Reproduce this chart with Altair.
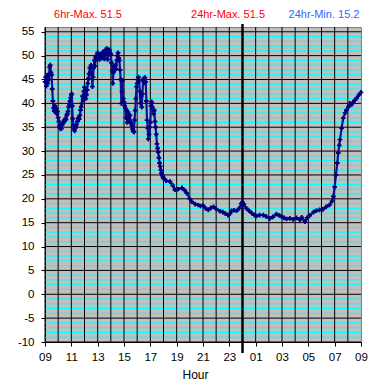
import altair as alt
import pandas as pd

# ---- data ----
HOURS = [0.00, 0.05, 0.10, 0.15, 0.20, 0.25, 0.30, 0.35, 0.40, 0.45, 0.50, 0.55, 0.60, 0.65, 0.70, 0.75,
         0.80, 0.85, 0.90, 0.95, 1.00, 1.05, 1.10, 1.15, 1.20, 1.25, 1.30, 1.35, 1.40, 1.45, 1.50, 1.55,
         1.60, 1.65, 1.70, 1.75, 1.80, 1.85, 1.90, 1.95, 2.00, 2.03, 2.07, 2.10, 2.15, 2.20, 2.25, 2.30,
         2.35, 2.40, 2.45, 2.50, 2.55, 2.60, 2.65, 2.70, 2.75, 2.80, 2.85, 2.90, 2.95, 3.00, 3.05, 3.10,
         3.15, 3.20, 3.25, 3.30, 3.35, 3.40, 3.45, 3.50, 3.55, 3.60, 3.65, 3.70, 3.75, 3.80, 3.85, 3.90,
         3.95, 4.00, 4.05, 4.10, 4.15, 4.20, 4.25, 4.30, 4.35, 4.40, 4.45, 4.50, 4.55, 4.60, 4.65, 4.70,
         4.75, 4.80, 4.85, 4.90, 4.95, 5.00, 5.05, 5.10, 5.15, 5.20, 5.25, 5.30, 5.35, 5.40, 5.45, 5.50,
         5.55, 5.60, 5.65, 5.70, 5.75, 5.80, 5.85, 5.90, 5.95, 6.00, 6.05, 6.10, 6.15, 6.20, 6.25, 6.30,
         6.35, 6.40, 6.45, 6.50, 6.55, 6.60, 6.65, 6.70, 6.75, 6.80, 6.85, 6.90, 6.95, 7.00, 7.05, 7.10,
         7.15, 7.20, 7.25, 7.30, 7.35, 7.40, 7.45, 7.50, 7.55, 7.60, 7.65, 7.70, 7.75, 7.80, 7.85, 7.90,
         7.95, 8.00, 8.05, 8.10, 8.15, 8.20, 8.25, 8.30, 8.35, 8.40, 8.45, 8.50, 8.55, 8.60, 8.65, 8.70,
         8.75, 8.80, 8.85, 8.90, 8.95, 9.00,
         9.2, 9.5, 9.7, 9.87, 10.1, 10.4, 10.6, 10.76, 11.0, 11.14, 11.4, 11.64, 11.8, 12.0, 12.2, 12.4,
         12.6, 12.8, 13.0, 13.3, 13.5, 13.7, 13.9, 14.05, 14.17, 14.35, 14.55, 14.75, 14.9, 15.0, 15.1,
         15.3, 15.5, 15.7, 15.9, 16.07, 16.3, 16.57, 16.8, 17.08, 17.3, 17.58, 17.8, 17.96, 18.15, 18.34,
         18.6, 18.85, 19.1, 19.36, 19.5, 19.74, 19.9, 20.1, 20.4, 20.6, 20.85, 21.1, 21.35, 21.6, 21.8,
         21.9, 22.0, 22.1, 22.2, 22.27, 22.35, 22.4, 22.53, 22.65, 22.8, 22.9, 23.05, 23.16, 23.3, 23.4,
         23.55, 23.67, 23.85, 24.0]

TEMPS = [44.5, 45.5, 43.6, 45.8, 44.2, 46.0, 45.0, 47.6, 48.0, 46.5, 46.0, 43.0, 40.5, 39.0, 38.4, 39.5,
         38.2, 39.0, 37.8, 38.3, 37.0, 36.2, 35.3, 34.8, 35.2, 34.7, 35.5, 35.8, 36.0, 36.4, 36.5, 36.8,
         36.6, 37.5, 37.8, 38.3, 39.3, 39.9, 40.5, 41.2, 41.8, 42.0, 39.5, 36.8, 35.5, 34.6, 34.3, 34.8,
         35.1, 35.6, 36.2, 36.8, 37.0, 36.7, 37.5, 38.6, 39.3, 40.0, 41.5, 40.8, 42.5, 43.4, 42.8, 41.0,
         41.8, 42.8, 44.2, 45.2, 46.2, 47.5, 46.4, 48.0, 46.0, 43.5, 45.5, 47.5, 49.0, 47.8, 49.7, 50.0,
         49.2, 50.6, 49.4, 49.8, 49.2, 50.2, 49.6, 50.3, 49.5, 50.8, 49.8, 49.3, 50.5, 51.2, 50.3, 51.5,
         49.2, 51.0, 50.5, 51.2, 50.2, 50.4, 48.5, 46.8, 44.2, 46.5, 47.8, 47.0, 48.0, 47.2, 49.0, 50.0,
         50.6, 49.5, 49.0, 47.0, 45.0, 40.0, 42.5, 44.8, 41.0, 40.3, 39.5, 39.0, 37.0, 38.5, 36.0, 38.2,
         37.2, 36.6, 37.5, 36.0, 35.8, 35.2, 34.6, 34.2, 34.0, 36.5, 38.5, 41.0, 43.5, 44.2, 45.0, 45.5,
         44.6, 42.5, 40.0, 41.5, 39.2, 42.0, 44.8, 45.2, 44.3, 45.4, 44.5, 40.5, 36.5, 34.8, 32.5, 33.5,
         35.0, 36.0, 39.5, 40.3, 39.2, 38.8, 37.8, 38.5, 36.2, 35.0, 33.5, 31.5, 30.6, 29.8, 28.6, 27.5,
         26.8, 26.0, 25.4, 25.0, 24.6, 24.3,
         23.8, 23.6, 22.8, 21.9, 22.0, 22.3, 21.8, 21.2, 20.0, 19.4, 18.9, 18.7, 18.5, 18.6, 18.0, 17.7,
         18.1, 18.3, 17.9, 17.4, 17.2, 16.9, 16.6, 16.9, 17.5, 17.6, 17.5, 18.0, 19.0, 19.2, 18.9,
         18.0, 17.5, 17.0, 16.6, 16.4, 16.6, 16.6, 16.3, 15.9, 16.2, 16.8, 16.5, 16.3, 16.0, 15.8,
         15.9, 15.7, 16.0, 15.6, 16.1, 15.2, 16.0, 16.5, 17.2, 17.5, 17.7, 17.8, 18.3, 18.7, 19.5,
         20.5, 22.5, 25.0, 27.5, 29.6, 31.2, 32.4, 34.8, 36.9, 38.0, 38.6, 39.3, 40.0, 39.8, 40.2,
         40.7, 41.1, 41.8, 42.3]

HOUR_GRID = list(range(0, 24))              # black vertical grid (every hour)
MAJOR_Y = list(range(-10, 56, 5))           # black horizontal grid
MINOR_Y = [v for v in range(-9, 56) if v % 5 != 0]   # cyan minor grid
MIDNIGHT = [15]                             # 00:00 marker
X_TICKS = list(range(0, 25, 2))

TITLE_TEXTS = ["6hr-Max. 51.5", "24hr-Max. 51.5", "24hr-Min. 15.2"]
TITLE_COLORS = ["#FF0000", "#FF0000", "#3366FF"]
TITLE_X = [43, 183, 279]   # layout (pixels within plot)

FONT = "Liberation Sans"

df = pd.DataFrame({"t": HOURS, "temp": TEMPS})

xscale = alt.Scale(domain=[0, 24], nice=False, zero=False)
yscale = alt.Scale(domain=[-10, 56], nice=False, zero=False)

x_axis = alt.Axis(values=X_TICKS, grid=False, title="Hour", labelOverlap=False,
                  labelExpr="((datum.value + 9) % 24 < 10 ? '0' : '') + ((datum.value + 9) % 24)",
                  labelFont=FONT, labelFontSize=11.5, labelColor="black", labelPadding=5,
                  labelFlush=False,
                  tickColor="black", tickSize=4, domainColor="black",
                  titleFont=FONT, titleFontSize=12, titleFontWeight="normal", titleColor="black",
                  titleX=150, titleY=36, titleBaseline="alphabetic")
y_axis = alt.Axis(values=MAJOR_Y, grid=False, title=None, labelOverlap=False,
                  labelExpr="'' + datum.value", labelFlush=False,
                  labelFont=FONT, labelFontSize=11.5, labelColor="black", labelPadding=7,
                  tickColor="black", tickSize=4, domainColor="black")

X = lambda f: alt.X(f, scale=xscale, axis=x_axis)
Y = lambda f: alt.Y(f, scale=yscale, axis=y_axis)

minor = alt.Chart(pd.DataFrame({"y": MINOR_Y})).mark_rule(color="#00FFFF", strokeWidth=1).encode(
    y=Y("y:Q"))
major = alt.Chart(pd.DataFrame({"y": MAJOR_Y})).mark_rule(color="black", strokeWidth=1).encode(
    y=Y("y:Q"))
vgrid = alt.Chart(pd.DataFrame({"x": HOUR_GRID})).mark_rule(color="black", strokeWidth=1).encode(
    x=X("x:Q"))
mid = alt.Chart(pd.DataFrame({"x": MIDNIGHT})).mark_rule(color="black", strokeWidth=2.5).encode(
    x=X("x:Q"), y=alt.value(-3), y2=alt.value(326))

line = alt.Chart(df).mark_line(color="#101090", strokeWidth=2.2).encode(
    x=X("t:Q"), y=Y("temp:Q"))
pts = alt.Chart(df).mark_point(shape="cross", filled=True, size=22, color="#000080", opacity=1).encode(
    x=X("t:Q"), y=Y("temp:Q"))

texts = []
for txt, col, px in zip(TITLE_TEXTS, TITLE_COLORS, TITLE_X):
    texts.append(
        alt.Chart(pd.DataFrame({"label": [txt]})).mark_text(
            font=FONT, fontSize=11, color=col, align="center", baseline="middle"
        ).encode(text="label:N", x=alt.value(px), y=alt.value(-12))
    )

chart = alt.layer(minor, major, vgrid, mid, line, pts, *texts).properties(
    width=316, height=315,
    autosize=alt.AutoSizeParams(type="none"),
    padding={"left": 37, "top": 19, "right": 16, "bottom": 42},
    background="white",
).configure_view(
    fill="#C0C0C0", stroke="#808080", strokeWidth=1
).configure_axis(labelOverlap=False)

chart.save("out.html", embed_options={"renderer": "svg", "actions": False})
